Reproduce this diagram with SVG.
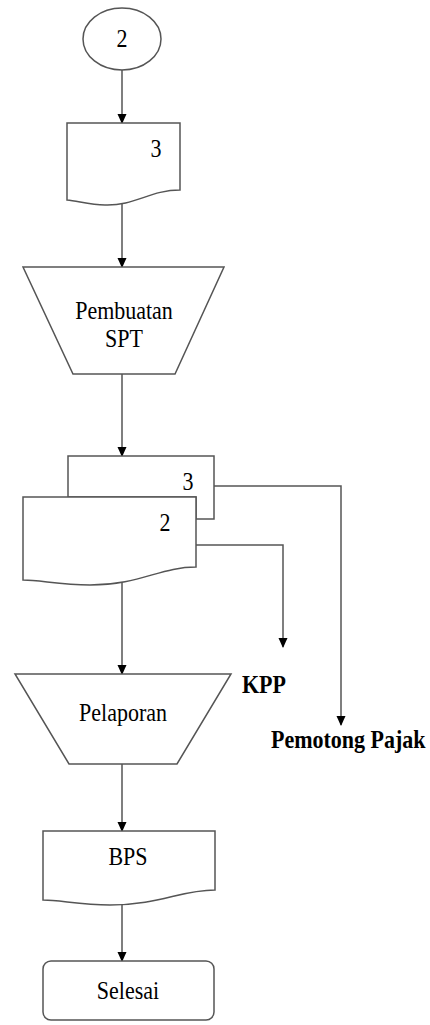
<svg xmlns="http://www.w3.org/2000/svg" width="430" height="1025" viewBox="0 0 430 1025">
<style>
.s{fill:#fff;stroke:#555;stroke-width:1.5}
.c{fill:none;stroke:#555;stroke-width:1.5}
.t{font-family:"Liberation Serif","Times New Roman",serif;font-size:22px;fill:#000}
.b{font-family:"Liberation Serif","Times New Roman",serif;font-size:22px;font-weight:bold;fill:#000}
</style>
<defs>
<marker id="ar" markerWidth="10" markerHeight="11" refX="9" refY="5" orient="auto" markerUnits="userSpaceOnUse">
<path d="M0,0.5 L10,5 L0,9.5 Z" fill="#000"/>
</marker>
</defs>
<rect width="430" height="1025" fill="#fff"/>
<g id="connectors">
<line class="c" x1="122" y1="70" x2="122" y2="123" marker-end="url(#ar)"/>
<line class="c" x1="122" y1="204" x2="122" y2="267" marker-end="url(#ar)"/>
<line class="c" x1="122" y1="374" x2="122" y2="456" marker-end="url(#ar)"/>
<polyline class="c" points="214,486 341,486 341,725" marker-end="url(#ar)"/>
<polyline class="c" points="196,545 283,545 283,647" marker-end="url(#ar)"/>
<line class="c" x1="122" y1="578" x2="122" y2="674" marker-end="url(#ar)"/>
<line class="c" x1="122" y1="764" x2="122" y2="831" marker-end="url(#ar)"/>
<line class="c" x1="122" y1="903" x2="122" y2="961" marker-end="url(#ar)"/>
</g>
<g id="start">
<ellipse class="s" cx="122" cy="39" rx="39" ry="31"/>
<text class="t" transform="translate(122,47) scale(1,1.15)" text-anchor="middle">2</text>
</g>
<g id="doc3">
<path class="s" d="M67,123 H180 V190 C150,190 135,206 105,205 C90,205 78,201 67,200 Z"/>
<text class="t" transform="translate(156,157) scale(1,1.15)" text-anchor="middle">3</text>
</g>
<g id="pembuatan">
<path class="s" d="M23,267 H224 L175,374 H73 Z"/>
<text class="t" transform="translate(124,319) scale(1,1.15)" text-anchor="middle">Pembuatan</text>
<text class="t" transform="translate(124,347) scale(1,1.15)" text-anchor="middle">SPT</text>
</g>
<g id="spt3">
<path class="s" d="M68,456 H214 V519 H196 V497 H68 Z"/>
<text class="t" transform="translate(188,490) scale(1,1.15)" text-anchor="middle">3</text>
</g>
<g id="spt2">
<path class="s" d="M23,497 H196 V567 C160,567 140,585 90,585 C60,585 40,580 23,580 Z"/>
<text class="t" transform="translate(165,531) scale(1,1.15)" text-anchor="middle">2</text>
</g>
<g id="pelaporan">
<path class="s" d="M15,674 H231 L177,764 H69 Z"/>
<text class="t" transform="translate(123,721) scale(1,1.15)" text-anchor="middle">Pelaporan</text>
</g>
<g id="kpp">
<text class="b" transform="translate(242,693) scale(1,1.15)">KPP</text>
</g>
<g id="pemotong">
<text class="b" transform="translate(271,748) scale(1,1.15)">Pemotong Pajak</text>
</g>
<g id="bps">
<path class="s" d="M43,831 H215 V890 C180,890 160,905 110,905 C80,905 60,900 43,900 Z"/>
<text class="t" transform="translate(128,865) scale(1,1.15)" text-anchor="middle">BPS</text>
</g>
<g id="selesai">
<rect class="s" x="43" y="961" width="171" height="59" rx="8"/>
<text class="t" transform="translate(128,999) scale(1,1.15)" text-anchor="middle">Selesai</text>
</g>
</svg>
